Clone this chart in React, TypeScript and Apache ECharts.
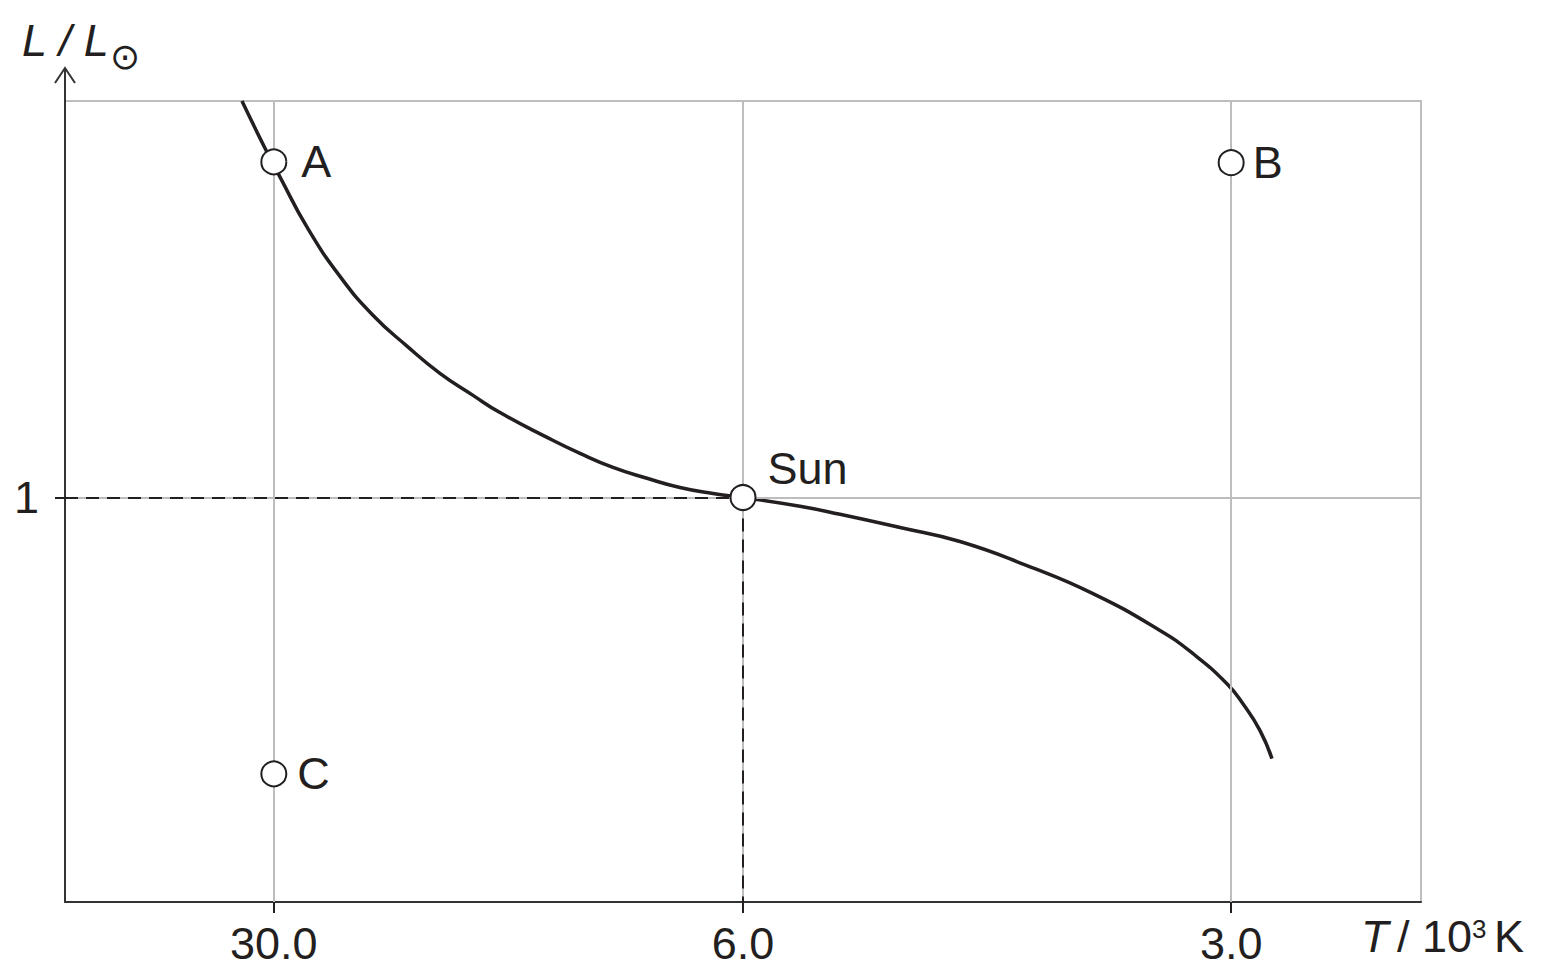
import React, { useEffect, useRef } from 'react';
import * as echarts from 'echarts';

// schematic axes: 0..100 across the plot box
const xTickPos = [15.4, 50, 86];
const xTickLabels = ['30.0', '6.0', '3.0'];
const yTickPos = [50.5];
const yTickLabels = ['1'];

// main sequence curve
const curveX = [13.05, 14.9, 15.86, 17.85, 20.28, 22.71, 25.22, 27.65, 30.09, 32.08, 35.55, 37.98, 40.41, 42.92, 45.35, 47.79, 50.0, 54.2, 57.15, 61.58, 66.0, 70.94, 75.81, 80.75, 83.19, 85.69, 86.87, 88.13, 89.01];
const curveY = [100, 93.6, 90.5, 84.25, 78.1, 73.25, 69.4, 66.0, 63.25, 61.1, 58.0, 56.0, 54.25, 52.9, 51.75, 51.0, 50.5, 49.4, 48.4, 46.75, 45.0, 42.0, 38.5, 33.9, 31.0, 27.25, 24.75, 21.4, 17.9];

const starNames = ['A', 'B', 'C', 'Sun'];
const starX = [15.4, 86.0, 15.4, 50.0];
const starY = [92.4, 92.3, 16.0, 50.5];

const INK = '#231f20';
const GRID = '#bdbdbd';
const FONT = '"Liberation Sans", Arial, sans-serif';

const lookup = (pos: number[], labels: string[]) => (v: number) => {
  const i = pos.findIndex((p) => Math.abs(p - v) < 0.01);
  return i >= 0 ? labels[i] : '';
};

const labelSetup: Record<string, any> = {
  A: { distance: 14, offset: [0, 0] },
  B: { distance: 8, offset: [0, 0] },
  C: { distance: 10, offset: [0, 0] },
  Sun: { distance: 11, offset: [0, -29] },
};

const App: React.FC = () => {
  const chartRef = useRef<HTMLDivElement>(null);

  useEffect(() => {
    if (!chartRef.current) return;
    const myChart = echarts.init(chartRef.current, null, { renderer: 'svg' });

    const option = {
      animation: false,
      backgroundColor: '#fff',
      grid: {
        left: 65,
        right: 123,
        top: 101,
        bottom: 72,
        show: true,
        borderColor: GRID,
        borderWidth: 2,
      },
      xAxis: {
        type: 'value',
        min: 0,
        max: 100,
        axisLine: { show: true, lineStyle: { color: '#333', width: 2 } },
        axisTick: { show: true, customValues: xTickPos, length: 11, lineStyle: { color: INK, width: 2 } },
        axisLabel: {
          customValues: xTickPos,
          formatter: lookup(xTickPos, xTickLabels),
          fontSize: 45,
          fontFamily: FONT,
          color: INK,
          margin: 19,
        },
        splitLine: { show: false },
      },
      yAxis: {
        type: 'value',
        min: 0,
        max: 100,
        axisLine: { show: true, lineStyle: { color: '#333', width: 2 } },
        axisTick: { show: true, customValues: yTickPos, length: 10, lineStyle: { color: INK, width: 2 } },
        axisLabel: {
          customValues: yTickPos,
          formatter: lookup(yTickPos, yTickLabels),
          fontSize: 45,
          fontFamily: FONT,
          color: INK,
          margin: 26,
        },
        splitLine: { show: false },
      },
      series: [
        {
          // light grid lines through the ticks
          type: 'line',
          data: [],
          z: 1,
          silent: true,
          markLine: {
            silent: true,
            symbol: 'none',
            label: { show: false },
            lineStyle: { color: GRID, width: 2, type: 'solid' },
            data: [
              ...xTickPos.map((v) => ({ xAxis: v })),
              ...yTickPos.map((v) => ({ yAxis: v })),
            ],
          },
        },
        {
          // dashed guides to the Sun
          type: 'line',
          data: [],
          z: 2,
          silent: true,
          markLine: {
            silent: true,
            symbol: 'none',
            label: { show: false },
            lineStyle: { color: INK, width: 2, type: [13, 8] },
            data: [
              [{ coord: [0, starY[3]] }, { coord: [starX[3], starY[3]] }],
              [{ coord: [starX[3], starY[3]] }, { coord: [starX[3], 0] }],
            ],
          },
        },
        {
          type: 'line',
          data: curveX.map((x, i) => [x, curveY[i]]),
          smooth: 0.5,
          showSymbol: false,
          z: 3,
          lineStyle: { color: INK, width: 3.5 },
        },
        {
          type: 'scatter',
          z: 5,
          symbol: 'circle',
          symbolSize: 25,
          itemStyle: { color: '#fff', borderColor: INK, borderWidth: 2, opacity: 1 },
          data: starNames.map((n, i) => ({
            name: n,
            value: [starX[i], starY[i]],
            label: {
              show: true,
              position: 'right',
              formatter: n,
              distance: labelSetup[n].distance,
              offset: labelSetup[n].offset,
              fontSize: 45,
              fontFamily: FONT,
              color: INK,
            },
          })),
        },
      ],
      graphic: [
        // arrow head on the y axis
        {
          type: 'line',
          shape: { x1: 65, y1: 101, x2: 65, y2: 68 },
          style: { stroke: '#333', lineWidth: 2 },
        },
        {
          type: 'polyline',
          shape: { points: [[55, 83], [65, 68], [75, 83]] },
          style: { stroke: '#333', lineWidth: 2, fill: 'none' },
        },
        {
          type: 'text',
          x: 22,
          y: 40,
          style: { text: 'L / L', font: `italic 45px ${FONT}`, fill: INK, verticalAlign: 'middle' },
        },
        {
          type: 'text',
          x: 110,
          y: 56,
          style: { text: '⊙', font: `36px "DejaVu Sans"`, fill: INK, verticalAlign: 'middle' },
        },
        {
          type: 'text',
          x: 1361,
          y: 936,
          style: { text: 'T', font: `italic 45px ${FONT}`, fill: INK, verticalAlign: 'middle' },
        },
        {
          type: 'text',
          x: 1397,
          y: 936,
          style: { text: '/ 10', font: `45px ${FONT}`, fill: INK, verticalAlign: 'middle' },
        },
        {
          type: 'text',
          x: 1472,
          y: 929,
          style: { text: '3', font: `26px ${FONT}`, fill: INK, verticalAlign: 'middle' },
        },
        {
          type: 'text',
          x: 1494,
          y: 936,
          style: { text: 'K', font: `45px ${FONT}`, fill: INK, verticalAlign: 'middle' },
        },
      ],
    };

    myChart.setOption(option);
    return () => {
      myChart.dispose();
    };
  }, []);

  return (
    <div
      ref={chartRef}
      style={{ position: 'absolute', left: 0, top: 0, width: '1544px', height: '974px' }}
    ></div>
  );
};

export default App;
